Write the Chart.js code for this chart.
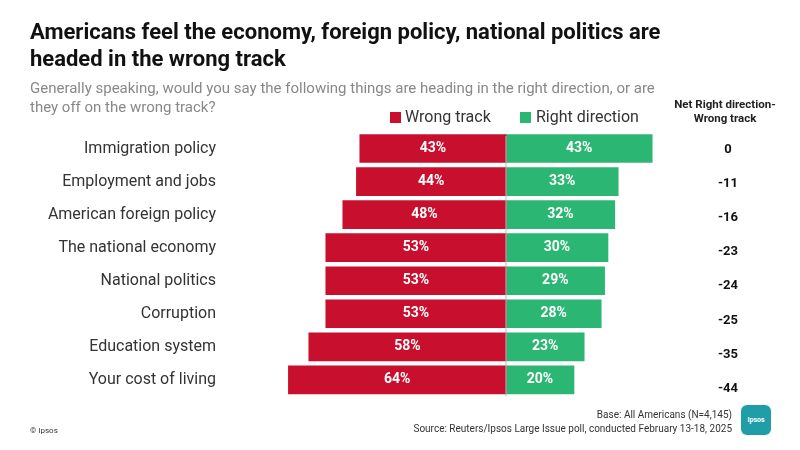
<!DOCTYPE html>
<html><head><meta charset="utf-8">
<script src="https://cdn.jsdelivr.net/npm/chart.js@4"></script>
<style>
body{margin:0;width:800px;height:450px;position:relative;font-family:Roboto,sans-serif;background:#fff;overflow:hidden}
#wrap{position:absolute;left:0;top:0;width:800px;height:450px}
.t{position:absolute;color:#222}
</style></head><body>
<div id="wrap"><canvas id="c" width="800" height="450"></canvas></div>
<div class="t" style="left:30px;top:18px;font-size:22px;font-weight:700;line-height:27px;width:690px;color:#111">Americans feel the economy, foreign policy, national politics are headed in the wrong track</div>
<div class="t" style="left:30px;top:79px;font-size:15px;line-height:19px;width:645px;color:#888">Generally speaking, would you say the following things are heading in the right direction, or are they off on the wrong track?</div>
<div class="t" style="left:670px;top:97px;font-size:11.5px;font-weight:700;line-height:14px;width:110px;text-align:center">Net Right direction-<br>Wrong track</div>
<div class="t" style="right:68px;top:408px;font-size:10px;line-height:14px;text-align:right;color:#333">Base: All Americans (N=4,145)<br>Source: Reuters/Ipsos Large Issue poll, conducted February 13-18, 2025</div>
<div class="t" style="left:30px;top:426px;font-size:8px;color:#333">© Ipsos</div>
<div class="t" style="left:741px;top:405px;width:30px;height:30px;border-radius:6px;background:#1f9ea8;color:#fff;font-size:7px;font-weight:700;text-align:center;line-height:30px">Ipsos</div>
<script>
const categories = ["Immigration policy","Employment and jobs","American foreign policy","The national economy","National politics","Corruption","Education system","Your cost of living"];
const wrongTrack = [43,44,48,53,53,53,58,64];
const rightDirection = [43,33,32,30,29,28,23,20];
const netValues = ["0","-11","-16","-23","-24","-25","-35","-44"];

const extras = {
  id: 'extras',
  afterDatasetsDraw(chart) {
    const ctx = chart.ctx, x = chart.scales.x, y = chart.scales.y;
    ctx.save();
    ctx.strokeStyle = '#bbb'; ctx.lineWidth = 1;
    ctx.beginPath(); ctx.moveTo(x.getPixelForValue(0), chart.chartArea.top + 4); ctx.lineTo(x.getPixelForValue(0), chart.chartArea.bottom); ctx.stroke();
    ctx.font = '700 14px Roboto'; ctx.textAlign = 'center'; ctx.textBaseline = 'middle';
    categories.forEach((c, i) => {
      const yp = y.getPixelForValue(i);
      ctx.fillStyle = '#fff';
      ctx.fillText(wrongTrack[i] + '%', x.getPixelForValue(-wrongTrack[i] / 2), yp);
      ctx.fillText(rightDirection[i] + '%', x.getPixelForValue(rightDirection[i] / 2), yp);
      ctx.fillStyle = '#111';
      ctx.font = '700 13px Roboto';
      ctx.fillText(netValues[i], 728, yp + 1 + i * 1.1);
      ctx.font = '700 14px Roboto';
    });
    // legend
    ctx.textAlign = 'left'; ctx.font = '16px Roboto';
    ctx.fillStyle = '#c8102e'; ctx.fillRect(390, 112, 11, 11);
    ctx.fillStyle = '#333'; ctx.fillText('Wrong track', 405, 118);
    ctx.fillStyle = '#2cb673'; ctx.fillRect(520, 112, 11, 11);
    ctx.fillStyle = '#333'; ctx.fillText('Right direction', 536, 118);
    ctx.restore();
  }
};

new Chart(document.getElementById('c'), {
  type: 'bar',
  data: {
    labels: categories,
    datasets: [
      { label: 'Wrong track', data: wrongTrack.map(v => -v), backgroundColor: '#c8102e', barThickness: 28 },
      { label: 'Right direction', data: rightDirection, backgroundColor: '#2cb673', barThickness: 28 }
    ]
  },
  options: {
    indexAxis: 'y',
    responsive: false,
    animation: false,
    layout: { padding: { top: 132, bottom: 53, right: 141, left: 0 } },
    plugins: { legend: { display: false }, tooltip: { enabled: false } },
    scales: {
      x: { stacked: true, min: -70, max: 45, display: false },
      y: {
        stacked: true,
        grid: { display: false }, border: { display: false },
        afterFit(s) { s.width = 268; },
        ticks: { padding: 44, color: '#333', font: { size: 16, family: 'Roboto' } }
      }
    }
  },
  plugins: [extras]
});
</script>
</body></html>
